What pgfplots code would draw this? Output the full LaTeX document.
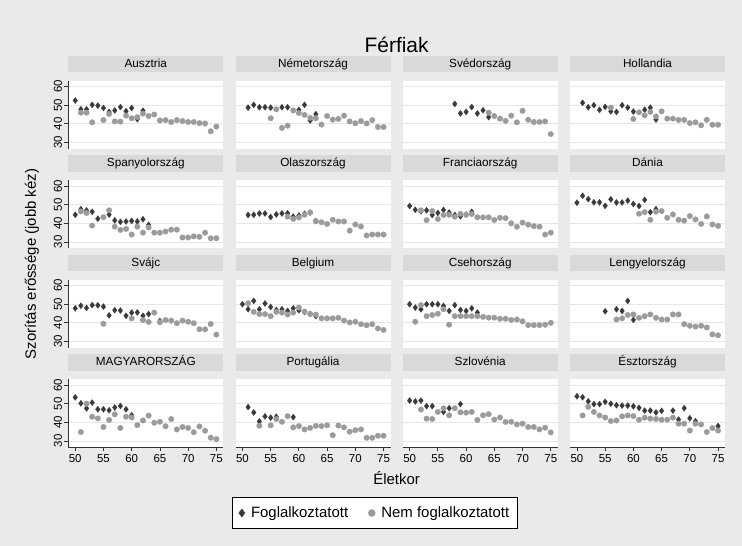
\documentclass[border=0pt]{standalone}
\usepackage{fontspec}
\setmainfont{Liberation Sans}
\usepackage{pgfplots}
\pgfplotsset{compat=1.18}
\definecolor{bggray}{HTML}{EAEAEA}
\definecolor{headgray}{HTML}{D9D9D9}
\definecolor{gridgray}{HTML}{E6E6E6}
\definecolor{darkm}{HTML}{3A3A3A}
\definecolor{lightm}{HTML}{9B9B9B}
\definecolor{axcol}{HTML}{333333}
\pgfplotsset{
  panel/.style={
    anchor=south west,
    width=155bp, height=68bp, scale only axis,
    xmin=48.77, xmax=76.23, ymin=26.5, ymax=63,
    xtick={50,55,...,75}, ytick={30,40,50,60},
    ymajorgrids, grid style={draw=gridgray, line width=0.8bp},
    axis lines*=left,
    axis line style={draw=none,-},
    tick style={draw=none},
    xticklabels={}, yticklabels={},
    major tick length=4bp, tick align=outside,
    axis background/.style={fill=white},
    /pgf/number format/assume math mode=true,
    title style={at={(0.5,1)}, anchor=south, yshift=2.5bp, fill=headgray,
      minimum width=155bp, minimum height=16.5bp, inner sep=0pt,
      text height=8.4bp, text depth=2.4bp,
      font=\fontsize{11.8}{13}\selectfont},
    clip=false,
  },
  ylab/.style={yticklabels={30,40,50,60},
    y axis line style={draw=axcol, line width=0.8bp},
    ytick style={draw=axcol, line width=0.8bp},
    yticklabel style={rotate=90, anchor=south, font=\fontsize{11.5}{13}\selectfont, inner sep=2bp}},
  xlab/.style={xticklabels={50,55,60,65,70,75},
    x axis line style={draw=axcol, line width=0.8bp},
    xtick style={draw=axcol, line width=0.8bp},
    xticklabel style={font=\fontsize{11.5}{13}\selectfont, inner sep=2.5bp}},
  darkser/.style={only marks, mark=diamond*, mark size=3.1bp,
    mark options={fill=darkm, draw=darkm, line width=0.2bp}},
  lightser/.style={only marks, mark=*, mark size=2.8bp,
    mark options={fill=lightm, draw=lightm, line width=0.2bp}},
}
\newcommand{\panel}[6]{%
\begin{axis}[panel, at={(#1bp,#2bp)}, title={#3}, #4]
\addplot[darkser] coordinates {#5};
\addplot[lightser] coordinates {#6};
\end{axis}}
\begin{document}
\begin{tikzpicture}
\fill[bggray] (0,0) rectangle (742bp,546bp);
\path[use as bounding box] (0,0) rectangle (742bp,546bp);
% Row 1
\panel{68.3}{397}{Ausztria}{ylab}
{(50,52.5)(51,47.8)(52,47.8)(53,50.2)(54,49.8)(55,48.5)(56,46.4)(57,47.2)(58,49)(59,46.8)(60,48.5)(61,42.5)(62,47)}
{(51,46)(52,46)(53,40.8)(55,42)(56,45.3)(57,41.3)(58,41.2)(59,44.4)(60,43)(61,43.6)(62,45.5)(63,44.2)(64,45)(65,41.8)(66,42)(67,41)(68,42)(69,41.5)(70,41)(71,41)(72,40.4)(73,40.2)(74,36)(75,38.5)}
\panel{235.5}{397}{Németország}{}
{(51,48.7)(52,50.2)(53,48.9)(54,48.9)(55,48.7)(57,48.9)(58,48.9)(60,47.5)(61,50.2)(62,41.8)(63,45.2)}
{(55,43)(56,47.8)(57,37.8)(58,39)(59,47.2)(60,45.8)(61,44.8)(62,43.2)(63,43)(64,39.6)(65,44.2)(66,42.3)(67,42.6)(68,44.4)(69,41.3)(70,40.3)(71,41.5)(72,40.2)(73,42)(74,38.3)(75,38.3)}
\panel{402.7}{397}{Svédország}{}
{(58,50.7)(59,45.6)(60,46.4)(61,49)(62,45.6)(63,47.3)(64,43.6)}
{(64,46)(65,44.2)(66,42.8)(67,41.6)(68,44.4)(69,40.8)(70,47)(71,42.2)(72,41)(73,41)(74,41.3)(75,34.5)}
\panel{570}{397}{Hollandia}{}
{(51,51.3)(52,48.9)(53,50)(54,47.5)(55,49.1)(56,46.7)(57,46.4)(58,50)(59,48.7)(60,46.6)(62,47.6)(63,48.7)(64,42.3)}
{(56,48.7)(60,42.6)(61,46.2)(62,44.6)(63,46.4)(64,44)(65,46.7)(66,42.8)(67,42.8)(68,42.1)(69,42.1)(70,40.4)(71,40.8)(72,39.2)(73,42.2)(74,39.5)(75,39.5)}
% Row 2
\panel{68.3}{297.5}{Spanyolország}{ylab}
{(50,44.6)(51,47.6)(52,46.9)(53,46.2)(54,42.5)(56,44.7)(57,41.6)(58,40.8)(59,41)(60,41.3)(61,41)(62,42.2)(63,39.2)}
{(51,46.4)(52,45.6)(53,38.8)(55,43.3)(56,47)(57,38.2)(58,36.5)(59,37)(60,34)(61,38.2)(62,35)(63,37.8)(64,35)(65,35)(66,35.6)(67,36.6)(68,36.6)(69,32.4)(70,32.4)(71,33)(72,32.8)(73,35)(74,32)(75,32)}
\panel{235.5}{297.5}{Olaszország}{}
{(51,44.5)(52,44.6)(53,45.3)(54,45.3)(55,43.4)(56,44.8)(57,45.3)(58,45.4)(59,43.6)(60,44.2)(61,45.1)(62,45.8)(63,41.3)}
{(58,43.6)(59,42.4)(60,43.2)(61,44.6)(62,45.8)(63,41.2)(64,40.6)(65,39.7)(66,41.9)(67,41)(68,41)(69,36.1)(70,39.4)(71,38.3)(72,33.5)(73,34)(74,34)(75,34)}
\panel{402.7}{297.5}{Franciaország}{}
{(50,49.3)(51,47.3)(52,46.5)(53,47)(54,44.5)(55,45.6)(56,47.2)(57,45.8)(58,44.5)(59,43.8)(60,44.8)(61,46.2)}
{(52,47)(53,41.7)(54,46.6)(55,42.3)(56,44.5)(57,44.6)(58,43.6)(59,45.1)(60,44.6)(61,45)(62,43.3)(63,43.2)(64,43.2)(65,41.8)(66,43)(67,42.8)(68,40)(69,38.2)(70,40.4)(71,39.3)(72,38.5)(73,38.2)(74,34)(75,35)}
\panel{570}{297.5}{Dánia}{}
{(50,51.1)(51,54.8)(52,53)(53,51.3)(54,51.3)(55,49.4)(56,52.9)(57,51.2)(58,51.2)(59,52.2)(60,50.4)(61,49.3)(62,52.6)(63,46)(64,47.6)}
{(61,45.2)(62,46)(63,41.9)(64,46.3)(65,46.6)(66,43)(67,44.8)(68,41.9)(69,41.5)(70,43.9)(71,42.1)(72,39.7)(73,43.7)(74,39.4)(75,38.6)}
% Row 3
\panel{68.3}{198}{Svájc}{ylab}
{(50,47.8)(51,49.2)(52,48)(53,49.5)(54,49.4)(55,48.7)(56,44)(57,46.8)(58,46.6)(59,43.8)(60,45.5)(61,45.6)(62,43.8)(63,44.7)(65,41)}
{(55,39.5)(60,42.4)(62,41.5)(63,40.5)(64,45.5)(65,40.3)(66,41.5)(67,41.2)(68,39.8)(69,41.2)(70,40.6)(71,39.8)(72,36.6)(73,36.5)(74,39.4)(75,33.7)}
\panel{235.5}{198}{Belgium}{}
{(50,50)(51,47.3)(52,51.8)(53,47.3)(54,50.4)(55,48.5)(56,46.9)(57,47.3)(58,46.4)(59,47.8)(60,46.7)(61,45.8)(62,44.8)(63,43.6)}
{(51,50.5)(52,45.9)(53,44.7)(54,44.7)(55,43.6)(56,45.9)(57,45.5)(58,44.5)(59,45.5)(60,48.2)(61,46)(62,44.7)(63,44.4)(64,42.4)(65,42.4)(66,42.4)(67,42.7)(68,41.2)(69,40.2)(70,40.6)(71,39.3)(72,38.7)(73,39.3)(74,37)(75,36.2)}
\panel{402.7}{198}{Csehország}{}
{(50,50)(51,48.2)(52,47.3)(53,50)(54,50)(55,50)(56,49.1)(57,46.4)(58,49.5)(59,46.9)(60,46.4)(61,47.8)(62,45.5)}
{(51,40.6)(52,49.5)(53,43.6)(54,44.2)(55,44.9)(56,47.3)(57,39)(58,43.6)(59,43.6)(60,43.6)(61,43.6)(62,43.6)(63,43.2)(64,42.8)(65,42.8)(66,42.2)(67,42.2)(68,41.6)(69,41.8)(70,40.8)(71,38.8)(72,38.8)(73,38.8)(74,39)(75,40)}
\panel{570}{198}{Lengyelország}{}
{(55,46.2)(57,47.3)(58,46.4)(59,51.8)(60,41.6)}
{(57,41.8)(58,42.4)(59,44.2)(60,44.5)(61,42.7)(62,43.6)(63,44.5)(64,42.7)(65,41.8)(66,41.8)(67,44.5)(68,44.5)(69,39.3)(70,38.4)(71,38)(72,38.4)(73,37.5)(74,33.8)(75,33.3)}
% Row 4
\panel{68.3}{98.5}{MAGYARORSZÁG}{ylab,xlab}
{(50,53.4)(51,50.2)(52,47.5)(53,50.6)(54,47)(55,47)(56,46.5)(57,48)(58,48.8)(59,47)(60,43.8)}
{(51,34.8)(52,50)(53,43)(54,42.1)(55,37.5)(56,41.3)(57,44.3)(58,37)(59,43)(60,42.6)(61,38.5)(62,41)(63,43.6)(64,39.8)(65,40.3)(66,37.9)(67,41.8)(68,36.2)(69,37.5)(70,37)(71,34.7)(72,37.8)(73,35.5)(74,31.8)(75,31)}
\panel{235.5}{98.5}{Portugália}{xlab}
{(51,48.2)(52,45.3)(53,40.5)(54,43.2)(55,42.5)(56,43)(59,42.8)}
{(53,38.2)(55,38.4)(56,41.8)(57,40.3)(58,43.3)(59,37.3)(60,38)(61,36.2)(62,37)(63,38.1)(64,38)(65,38.4)(66,33.1)(67,38.3)(68,37.3)(69,35)(70,35.8)(71,36.2)(72,31.7)(73,31.7)(74,32.8)(75,32.8)}
\panel{402.7}{98.5}{Szlovénia}{xlab}
{(50,51.7)(51,51.2)(52,51.7)(53,48.7)(54,48.7)(56,45.6)(57,47.6)(59,49.8)}
{(52,46.9)(53,42)(54,41.8)(55,45.6)(56,47.5)(57,43.8)(58,47.6)(59,45.4)(60,45.2)(61,45.6)(62,41.3)(63,43.8)(64,44.4)(65,41.5)(66,42.6)(67,40.2)(68,40.3)(69,38.9)(70,39.3)(71,37.5)(72,37.5)(73,36.2)(74,37.1)(75,34.6)}
\panel{570}{98.5}{Észtország}{xlab}
{(50,54)(51,53.5)(52,51.3)(53,49.8)(54,49.8)(55,51)(56,50)(57,49.2)(58,49)(59,49)(60,48.6)(61,47.8)(62,46.3)(63,46.3)(64,45.3)(65,46.2)(67,46.3)(68,41.5)(69,47.6)(70,42.2)(71,40.6)(75,38)}
{(51,43.7)(52,48.3)(53,45.6)(54,43.7)(55,42.6)(56,40.7)(57,41)(58,43.2)(59,43.7)(60,43.4)(61,41.4)(62,42.5)(63,42)(64,41.8)(65,41.4)(66,41.4)(67,42.5)(68,39.3)(69,39.3)(70,35.6)(71,39.3)(72,38.9)(73,34.8)(74,36.9)(75,35.6)}
% Titles
\node[font=\fontsize{21}{24}\selectfont] at (396.6bp,501bp) {Férfiak};
\node[rotate=90, font=\fontsize{15}{18}\selectfont] at (32bp,282bp) {Szorítás erőssége (jobb kéz)};
\node[font=\fontsize{15}{18}\selectfont] at (396.6bp,68bp) {Életkor};
% Legend
\begin{axis}[at={(0bp,0bp)}, anchor=south west, width=742bp, height=546bp,
  scale only axis, hide axis, xmin=0, xmax=1, ymin=0, ymax=1,
  legend columns=2,
  legend style={at={(375/742,33/546)}, anchor=center, draw=black,
    line width=0.8bp, fill=white, inner xsep=6bp, inner ysep=7.5bp,
    font=\fontsize{15}{18}\selectfont,
    /tikz/every odd column/.append style={column sep=4bp},
    /tikz/every even column/.append style={column sep=18bp}}]
\addlegendimage{only marks, mark=diamond*, mark size=4.2bp, mark options={fill=darkm, draw=darkm, line width=0.2bp}}
\addlegendentry{Foglalkoztatott}
\addlegendimage{only marks, mark=*, mark size=3.6bp, mark options={fill=lightm, draw=lightm, line width=0.2bp}}
\addlegendentry{Nem foglalkoztatott}
\end{axis}
\end{tikzpicture}
\end{document}
